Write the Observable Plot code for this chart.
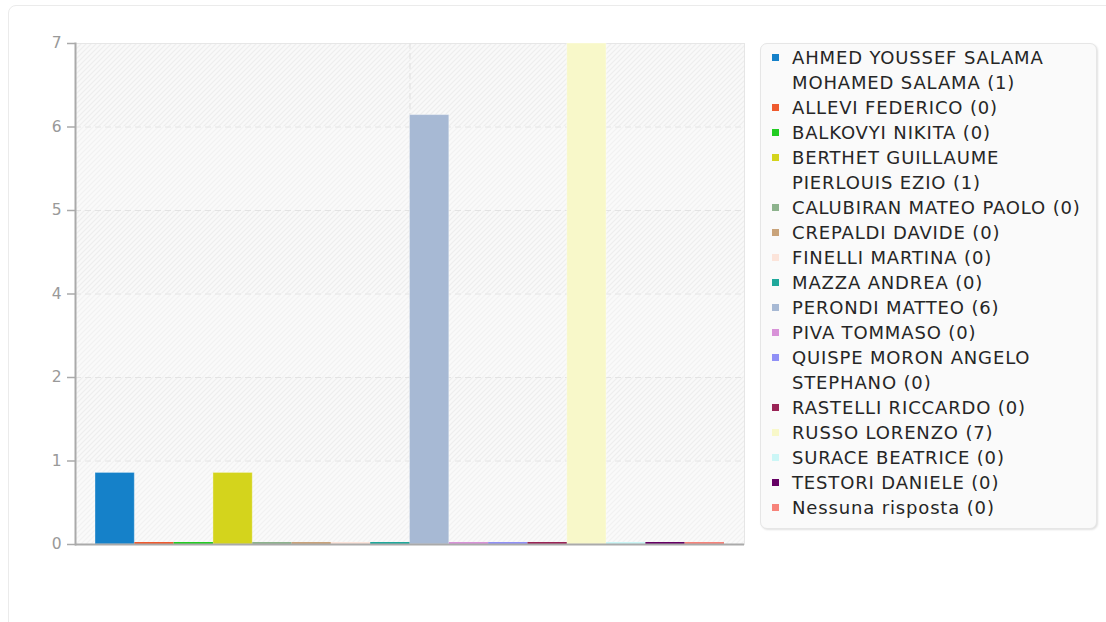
<!DOCTYPE html>
<html><head><meta charset="utf-8">
<script src="https://cdn.jsdelivr.net/npm/d3@7"></script>
<script src="https://cdn.jsdelivr.net/npm/@observablehq/plot@0.6"></script>
<style>
html,body{margin:0;padding:0;background:#fff;}
body{width:1106px;height:622px;overflow:hidden;position:relative;font-family:"DejaVu Sans",sans-serif;}
#card{position:absolute;left:8px;top:5px;width:1200px;height:700px;border:1.5px solid #ebebeb;border-radius:8px;box-sizing:border-box;}
#chart{position:absolute;left:0;top:0;}
#legend{position:absolute;left:760px;top:43px;width:337px;height:486px;box-sizing:border-box;background:#fafafa;border:1px solid #e6e6e6;border-radius:7px;box-shadow:1px 1px 2px rgba(0,0,0,0.12);padding:1px 0 0 0;margin:0;list-style:none;}
#legend li{display:flex;align-items:flex-start;line-height:25px;font-size:18px;color:#262626;letter-spacing:0.85px;}
#legend .sw{flex:none;width:7px;height:7px;margin:9px 13px 0 11px;}
#legend .tx{width:300px;}
</style></head><body>
<div id="card"></div>
<svg width="0" height="0" style="position:absolute">
<defs>
<pattern id="hatchA" patternUnits="userSpaceOnUse" width="5" height="5"><rect width="5" height="5" fill="#fafafa"/><path d="M-1,1 l2,-2 M0,5 l5,-5 M4,6 l2,-2" stroke="#f2f2f2" stroke-width="1.2"/></pattern>
<pattern id="hatchB" patternUnits="userSpaceOnUse" width="5" height="5"><rect width="5" height="5" fill="#f9f9f9"/><path d="M-1,1 l2,-2 M0,5 l5,-5 M4,6 l2,-2" stroke="#eeeeee" stroke-width="1.2"/></pattern>
</defs></svg>
<div id="chart"></div>
<ul id="legend"></ul>
<script>
const names = [
  "AHMED YOUSSEF SALAMA MOHAMED SALAMA",
  "ALLEVI FEDERICO",
  "BALKOVYI NIKITA",
  "BERTHET GUILLAUME PIERLOUIS EZIO",
  "CALUBIRAN MATEO PAOLO",
  "CREPALDI DAVIDE",
  "FINELLI MARTINA",
  "MAZZA ANDREA",
  "PERONDI MATTEO",
  "PIVA TOMMASO",
  "QUISPE MORON ANGELO STEPHANO",
  "RASTELLI RICCARDO",
  "RUSSO LORENZO",
  "SURACE BEATRICE",
  "TESTORI DANIELE",
  "Nessuna risposta"
];
const counts = [1, 0, 0, 1, 0, 0, 0, 0, 6, 0, 0, 0, 7, 0, 0, 0];
const colors = [
  "#1581c9", "#ef5a2e", "#22cc22", "#d4d41c", "#8db38d", "#c9a37a", "#fce4da", "#1fa89b",
  "#a7b9d4", "#d892d8", "#9090f6", "#9a2456", "#f8f8c9", "#cbf6f6", "#650064", "#f7837a"
];
const yTicks = [0, 7/6, 7/3, 3.5, 14/3, 35/6, 7];
const yTickLabels = ["0", "1", "2", "4", "5", "6", "7"];

const data = names.map((name, i) => ({name, value: counts[i]}));
const bands = yTicks.slice(0, -1).map((y, i) => ({y1: y, y2: yTicks[i + 1], odd: i % 2 === 1}));
const labelOf = new Map(yTicks.map((t, i) => [t, yTickLabels[i]]));

const W = 1106, H = 622, mL = 75, mR = 362, mT = 43, mB = 78;
const outer = 20;
const bw = (W - mL - mR - 2 * outer) / names.length;

const chart = Plot.plot({
  width: W, height: H,
  marginLeft: mL, marginRight: mR, marginTop: mT, marginBottom: mB,
  style: {background: "transparent", fontFamily: "DejaVu Sans, sans-serif"},
  x: {domain: names, paddingInner: 0, paddingOuter: outer / bw, round: false, axis: null},
  y: {domain: [0, 7]},
  color: {domain: names, range: colors},
  marks: [
    Plot.rect(bands.filter(d => !d.odd), {y1: "y1", y2: "y2", fill: "url(#hatchA)"}),
    Plot.rect(bands.filter(d => d.odd), {y1: "y1", y2: "y2", fill: "url(#hatchB)"}),
    Plot.frame({stroke: "#e6e6e6", strokeWidth: 1}),
    Plot.ruleY(yTicks.slice(1, -1), {stroke: "#e3e3e3", strokeWidth: 1.2, strokeDasharray: "6,4"}),
    Plot.ruleX([names[8]], {dx: -bw / 2, stroke: "#e3e3e3", strokeWidth: 1.2, strokeDasharray: "6,4"}),
    Plot.barY(data, {x: "name", y: "value", fill: "name", stroke: "white", strokeOpacity: 0.35, strokeWidth: 1}),
    Plot.tickY(data.filter(d => d.value === 0), {x: "name", y: "value", stroke: "name", strokeWidth: 2.2, dy: -1.3}),
    Plot.frame({anchor: "left", stroke: "#aaaaaa", strokeWidth: 2}),
    Plot.ruleY([0], {stroke: "#aaaaaa", strokeWidth: 2}),
    Plot.axisY({ticks: yTicks, tickFormat: d => labelOf.get(d), tickSize: 8, tickPadding: 6, fontSize: 15.5, color: "#999", stroke: "#aaaaaa", strokeWidth: 1.5})
  ]
});
document.getElementById("chart").appendChild(chart);

const ul = d3.select("#legend");
names.forEach((n, i) => {
  const li = ul.append("li");
  li.append("span").attr("class", "sw").style("background", colors[i]);
  li.append("span").attr("class", "tx").text(`${n} (${counts[i]})`);
});
</script>
</body></html>
